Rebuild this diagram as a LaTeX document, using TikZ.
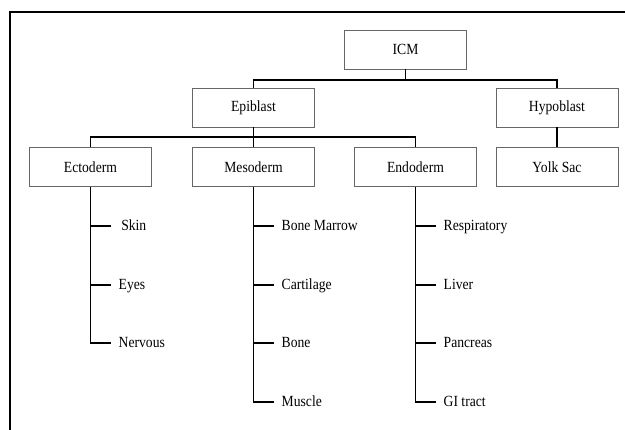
\documentclass[tikz,border=0pt]{standalone}
\usepackage{fontspec}
\setmainfont{Liberation Serif}[FakeStretch=0.88]
\usepackage{tikz}
\usetikzlibrary{positioning}

\tikzset{
    stage/.style={draw=black!60, line width=0.9pt, minimum width=122pt, minimum height=39pt, inner sep=0pt},
    tissue/.style={anchor=west, inner xsep=8pt, inner ysep=0pt, text height=10pt, text depth=0pt},
    link/.style={black, line width=1.8pt},
}

\begin{document}
\begin{tikzpicture}[x=1pt,y=-1pt,font=\fontsize{15.5}{17}\selectfont]
            \useasboundingbox[fill=white] (0,0) rectangle (625,430);
            % frame, cut off at the right and bottom
            \draw[black, line width=1.5pt] (10,430) -- (10,12) -- (625,12);
            % boxes
            \node[stage] (icm) at (405.5,49.5) {ICM};
            \node[stage] (epi) at (253.5,107.5) {Epiblast};
            \node[stage] (hypo) at (557,107.5) {Hypoblast};
            \node[stage] (ecto) at (90.5,167) {Ectoderm};
            \node[stage] (meso) at (253.5,167) {Mesoderm};
            \node[stage] (endo) at (415.5,167) {Endoderm};
            \node[stage] (yolk) at (557,167) {Yolk Sac};
            \coordinate (split1) at (405.5,80);
            \coordinate (split2) at (253.5,137);
            % tissues
            \node[tissue] (skin) at (110.5,226) {\,Skin};
            \node[tissue] (eyes) at (110.5,285) {Eyes};
            \node[tissue] (nerv) at (110.5,343) {Nervous};
            \node[tissue] (marrow) at (273.5,226) {Bone Marrow};
            \node[tissue] (cart) at (273.5,285) {Cartilage};
            \node[tissue] (bone) at (273.5,343) {Bone};
            \node[tissue] (muscle) at (273.5,402) {Muscle};
            \node[tissue] (resp) at (435.5,226) {Respiratory};
            \node[tissue] (liver) at (435.5,285) {Liver};
            \node[tissue] (panc) at (435.5,343) {Pancreas};
            \node[tissue] (gi) at (435.5,402) {GI tract};
            % tree lines
            \draw[link] (icm.south) -- (split1);
            \draw[link] (epi.north) |- (split1) -| (hypo.north);
            \draw[link] (epi.south) -- (meso.north);
            \draw[link] (ecto.north) |- (split2) -| (endo.north);
            \draw[link] (hypo.south) -- (yolk.north);
            \draw[link] (ecto.south) |- (skin.west);
            \draw[link] (ecto.south) |- (eyes.west);
            \draw[link] (ecto.south) |- (nerv.west);
            \draw[link] (meso.south) |- (marrow.west);
            \draw[link] (meso.south) |- (cart.west);
            \draw[link] (meso.south) |- (bone.west);
            \draw[link] (meso.south) |- (muscle.west);
            \draw[link] (endo.south) |- (resp.west);
            \draw[link] (endo.south) |- (liver.west);
            \draw[link] (endo.south) |- (panc.west);
            \draw[link] (endo.south) |- (gi.west);
        \end{tikzpicture}
\end{document}
